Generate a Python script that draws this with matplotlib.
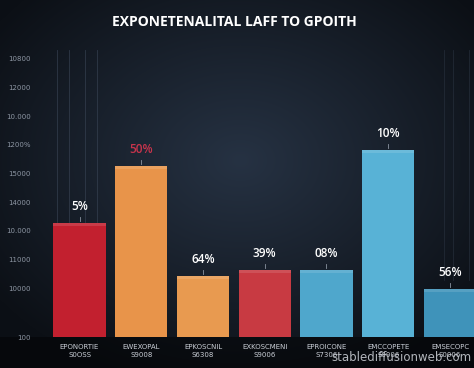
import numpy as np
import matplotlib.pyplot as plt

# chart data
title = "EXPONETENALITAL LAFF TO GPOITH"
categories = ["EPONORTIE\nS0OSS", "EWEXOPAL\nS9008", "EPKOSCNIL\nS6308",
              "EXKOSCMENI\nS9006", "EPROICONE\nS7306", "EMCCOPETE\nS0006",
              "EMSECOPC\nS0006"]
values = [39.7, 59.6, 21.3, 23.3, 23.3, 65.2, 16.7]
bar_labels = ["5%", "50%", "64%", "39%", "08%", "10%", "56%"]
tick_labels = ["100", "10000", "11000", "10.000", "14000", "15000",
               "1200%", "10.000", "12000", "10800"]

colors = ["#c2202f", "#e8944a", "#e89a50", "#c83a42", "#4fa7cc", "#58b2d6", "#3f93ba"]
label_colors = ["white", "#c8344c", "white", "white", "white", "white", "white"]

fig = plt.figure(figsize=(4.74, 3.68), dpi=100)

# background radial gradient
bg = fig.add_axes([0, 0, 1, 1], zorder=0)
yy, xx = np.mgrid[0:368, 0:474]
r = np.sqrt(((xx - 240) / 300.0) ** 2 + ((yy - 160) / 230.0) ** 2)
r = np.clip(r, 0, 1)
c_in = np.array([0x26, 0x32, 0x43]) / 255
c_out = np.array([0x0c, 0x10, 0x16]) / 255
img = c_in[None, None, :] * (1 - r[..., None]) + c_out[None, None, :] * r[..., None]
img[337:, :, :] *= 0.55
bg.imshow(img, aspect="auto", extent=[0, 1, 0, 1], origin="upper")
bg.axis("off")

ax = fig.add_axes([50 / 474, 31 / 368, 424 / 474, 287 / 368], zorder=1)
ax.patch.set_alpha(0)
x = np.arange(len(values))
ax.set_xlim(-0.478, 6.389)
ax.set_ylim(0, 100)

# faint vertical guide lines
for gx in [-0.36, -0.17, 0.09, 0.28]:
    ax.axvline(gx, ymin=0.4, ymax=1, color="#3a4556", lw=0.6, alpha=0.7)
for gx in [5.9, 6.05, 6.3]:
    ax.axvline(gx, ymin=0.2, ymax=1, color="#2c3644", lw=0.6, alpha=0.6)

bars = ax.bar(x, values, width=0.85, color=colors, zorder=3)
for b, v, lab, lc in zip(bars, values, bar_labels, label_colors):
    cx = b.get_x() + b.get_width() / 2
    ax.plot([cx, cx], [v + 0.6, v + 2.2], color="#8a93a0", lw=0.6, zorder=4)
    ax.annotate(lab, (cx, v), xytext=(0, 7), textcoords="offset points",
                ha="center", va="bottom", color=lc, fontsize=8.5,
                fontweight="semibold", family="Open Sans")
    # lighter top face for a slight 3D look
    ax.bar(cx, 1.0, bottom=v - 1.0, width=0.85, color="white", alpha=0.12, zorder=4)

ax.set_yticks([0] + [17 + 10 * k for k in range(9)])
ax.set_yticklabels(tick_labels, color="#8d96a3", fontsize=5)
ax.set_xticks(x)
ax.set_xticklabels(categories, color="#c9ced6", fontsize=5, linespacing=1.5)
ax.tick_params(axis="y", length=0, pad=14)
ax.tick_params(axis="x", length=0, pad=5)
for s in ax.spines.values():
    s.set_visible(False)

fig.text(0.495, 0.94, title, ha="center", va="center", color="white",
         fontsize=10, fontweight="bold", family="Open Sans")
fig.text(0.995, 0.028, "stablediffusionweb.com", ha="right", va="center",
         color="#d0d4da", fontsize=8.5, alpha=0.85)

fig.savefig("out.png", dpi=100)
